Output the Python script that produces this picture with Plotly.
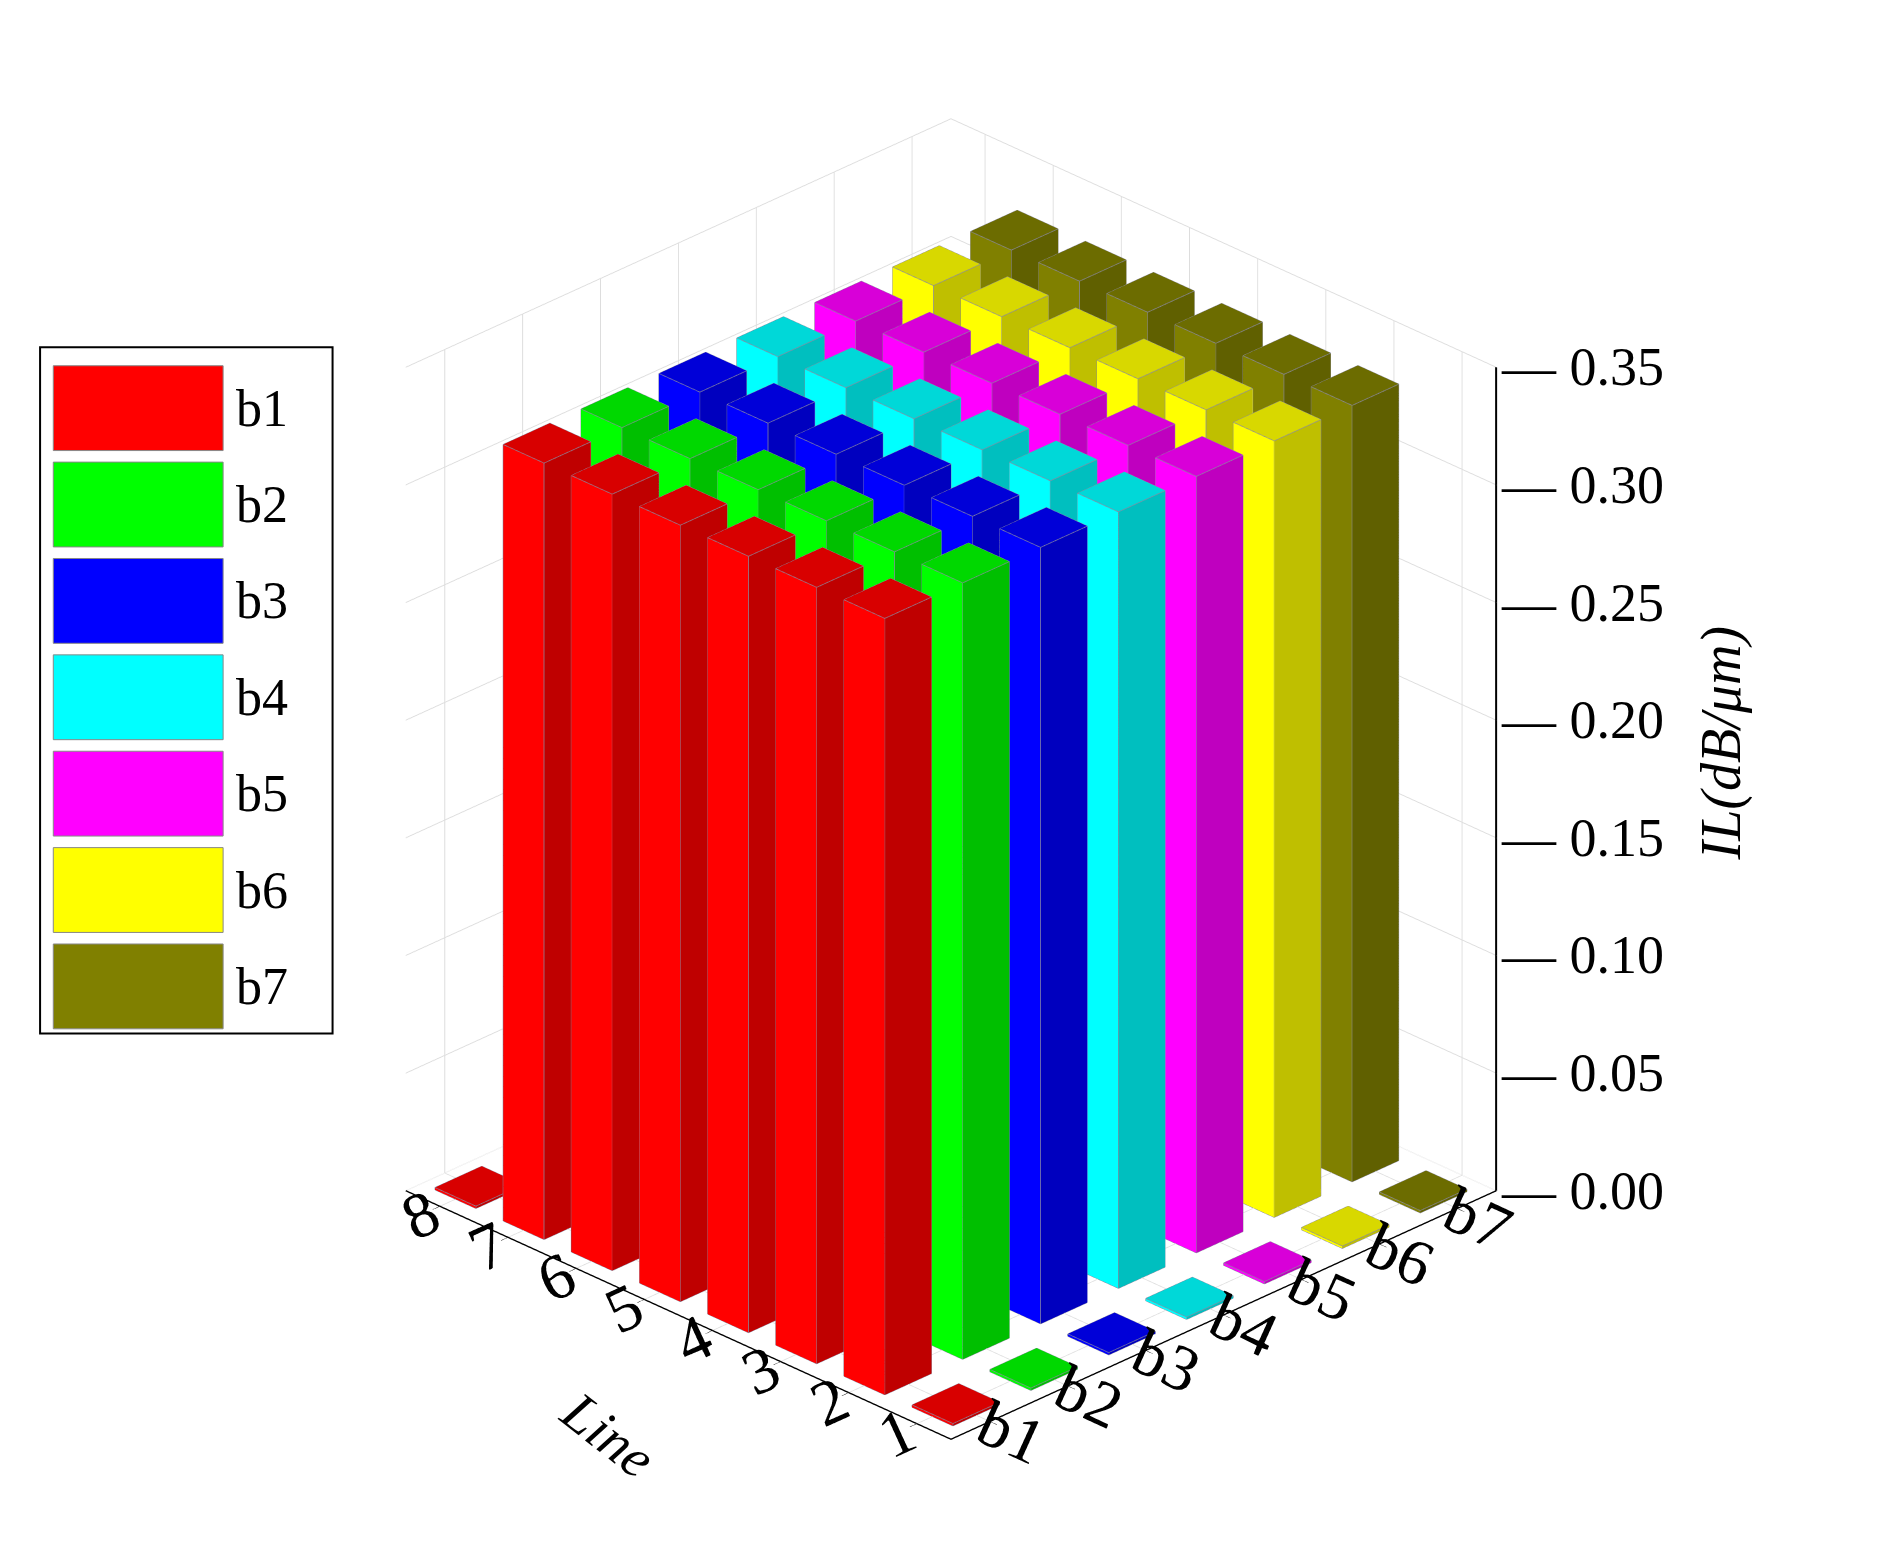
import plotly.graph_objects as go

series = ["b1", "b2", "b3", "b4", "b5", "b6", "b7"]
lines = [1, 2, 3, 4, 5, 6, 7, 8]
colors = ["#ff0000", "#00ff00", "#0000ff", "#00ffff", "#ff00ff", "#ffff00", "#808000"]
b1 = [0.0, 0.330, 0.330, 0.330, 0.330, 0.330, 0.330, 0.0]
b2 = [0.0, 0.330, 0.330, 0.330, 0.330, 0.330, 0.330, 0.0]
b3 = [0.0, 0.330, 0.330, 0.330, 0.330, 0.330, 0.330, 0.0]
b4 = [0.0, 0.330, 0.330, 0.330, 0.330, 0.330, 0.330, 0.0]
b5 = [0.0, 0.330, 0.330, 0.330, 0.330, 0.330, 0.330, 0.0]
b6 = [0.0, 0.330, 0.330, 0.330, 0.330, 0.330, 0.330, 0.0]
b7 = [0.0, 0.330, 0.330, 0.330, 0.330, 0.330, 0.330, 0.0]
values = [b1, b2, b3, b4, b5, b6, b7]
ztick = [0.0, 0.05, 0.10, 0.15, 0.20, 0.25, 0.30, 0.35]


def shade(hexc, f):
    h = hexc.lstrip("#")
    r, g, b = (int(h[i:i + 2], 16) for i in (0, 2, 4))
    return "rgb(%d,%d,%d)" % (r * f, g * f, b * f)


fig = go.Figure()
w = 0.3
ex, ey, ez = [], [], []
for si, (name, col, vals) in enumerate(zip(series, colors, values)):
    X, Y, Z, I, J, K, FC = [], [], [], [], [], [], []
    for li, v in enumerate(vals):
        x0, x1 = si + 1 - w, si + 1 + w
        y0, y1 = lines[li] - w, lines[li] + w
        z0, z1 = 0, max(v, 0.001)
        n = len(X)
        pts = [(x0, y0, z0), (x1, y0, z0), (x1, y1, z0), (x0, y1, z0),
               (x0, y0, z1), (x1, y0, z1), (x1, y1, z1), (x0, y1, z1)]
        for p in pts:
            X.append(p[0]); Y.append(p[1]); Z.append(p[2])
        faces = [((0, 1, 2), 0.85), ((0, 2, 3), 0.85),
                 ((4, 5, 6), 0.85), ((4, 6, 7), 0.85),
                 ((0, 1, 5), 0.75), ((0, 5, 4), 0.75),
                 ((3, 2, 6), 0.75), ((3, 6, 7), 0.75),
                 ((0, 3, 7), 1.0), ((0, 7, 4), 1.0),
                 ((1, 2, 6), 1.0), ((1, 6, 5), 1.0)]
        for (a, b, c), f in faces:
            I.append(n + a); J.append(n + b); K.append(n + c)
            FC.append(shade(col, f))
        edges = [(0, 1), (1, 2), (2, 3), (3, 0), (4, 5), (5, 6), (6, 7), (7, 4),
                 (0, 4), (1, 5), (2, 6), (3, 7)]
        for a, b in edges:
            ex += [pts[a][0], pts[b][0], None]
            ey += [pts[a][1], pts[b][1], None]
            ez += [pts[a][2], pts[b][2], None]
    fig.add_trace(go.Mesh3d(x=X, y=Y, z=Z, i=I, j=J, k=K, facecolor=FC, flatshading=True,
                            lighting=dict(ambient=1, diffuse=0, specular=0, fresnel=0),
                            name=name, showlegend=False, hoverinfo="skip"))
fig.add_trace(go.Scatter3d(x=ex, y=ey, z=ez, mode="lines", line=dict(color="#8a8aa0", width=1.5),
                           showlegend=False, hoverinfo="skip"))

fig.add_trace(go.Scatter3d(x=[7.5, 7.5], y=[0.5, 0.5], z=[0, 0.35], mode="lines",
                           line=dict(color="black", width=4), showlegend=False, hoverinfo="skip"))

axfont = dict(family="Liberation Serif", size=28, color="black")
common = dict(showbackground=False, gridcolor="#dddddd", showline=True, linecolor="black",
              linewidth=3, ticks="outside", tickcolor="black", ticklen=10, tickfont=axfont)
zann = [dict(x=7.5, y=0.5, z=t, text="— %.2f" % t, showarrow=False, xanchor="left", xshift=2,
             font=dict(family="Liberation Serif", size=54, color="black")) for t in ztick]
zann.append(dict(x=7.5, y=0.5, z=0.19, text="<i>IL(dB/μm)</i>", showarrow=False, xshift=225,
                 textangle=-90, font=dict(family="Liberation Serif", size=56, color="black")))
zann.append(dict(x=0.5, y=4.5, z=0, text="<i>Line</i>", showarrow=False, xshift=-70, yshift=-120,
                 textangle=38, font=dict(family="Liberation Serif", size=56, color="black")))
fig.update_layout(
    width=1887, height=1542, paper_bgcolor="white",
    margin=dict(l=0, r=0, t=0, b=0),
    scene=dict(
        domain=dict(x=[0.12, 0.88], y=[0.0, 1.0]),
        xaxis=dict(common, title=dict(text=""), tickvals=list(range(1, 8)), ticktext=series, range=[0.5, 7.5]),
        yaxis=dict(common, title=dict(text=""),
                   tickvals=lines, ticktext=[str(l) for l in lines], range=[0.5, 8.5]),
        zaxis=dict(common, title=dict(text=""), tickvals=ztick, showticklabels=False, range=[0, 0.35],
                   showline=False, ticks=""),
        aspectmode="manual", aspectratio=dict(x=1, y=1, z=1.2),
        camera=dict(eye=dict(x=-1.45, y=-1.45, z=1.05), projection=dict(type="orthographic")),
        annotations=zann,
    ),
)
shapes = [dict(type="rect", xref="paper", yref="paper", x0=0.017, x1=0.172, y0=0.335, y1=0.78,
               line=dict(color="black", width=2), fillcolor="white")]
ann = []
for idx, (name, col) in enumerate(zip(series, colors)):
    yt = 0.768 - idx * 0.0625
    shapes.append(dict(type="rect", xref="paper", yref="paper", x0=0.024, x1=0.114,
                       y0=yt - 0.055, y1=yt, fillcolor=col, line=dict(color="#888", width=1)))
    ann.append(dict(xref="paper", yref="paper", x=0.12, y=yt - 0.0275, text=name, showarrow=False,
                    xanchor="left", yanchor="middle",
                    font=dict(family="Liberation Serif", size=52, color="black")))
fig.update_layout(shapes=shapes, annotations=ann)
fig.write_html("out.html")
